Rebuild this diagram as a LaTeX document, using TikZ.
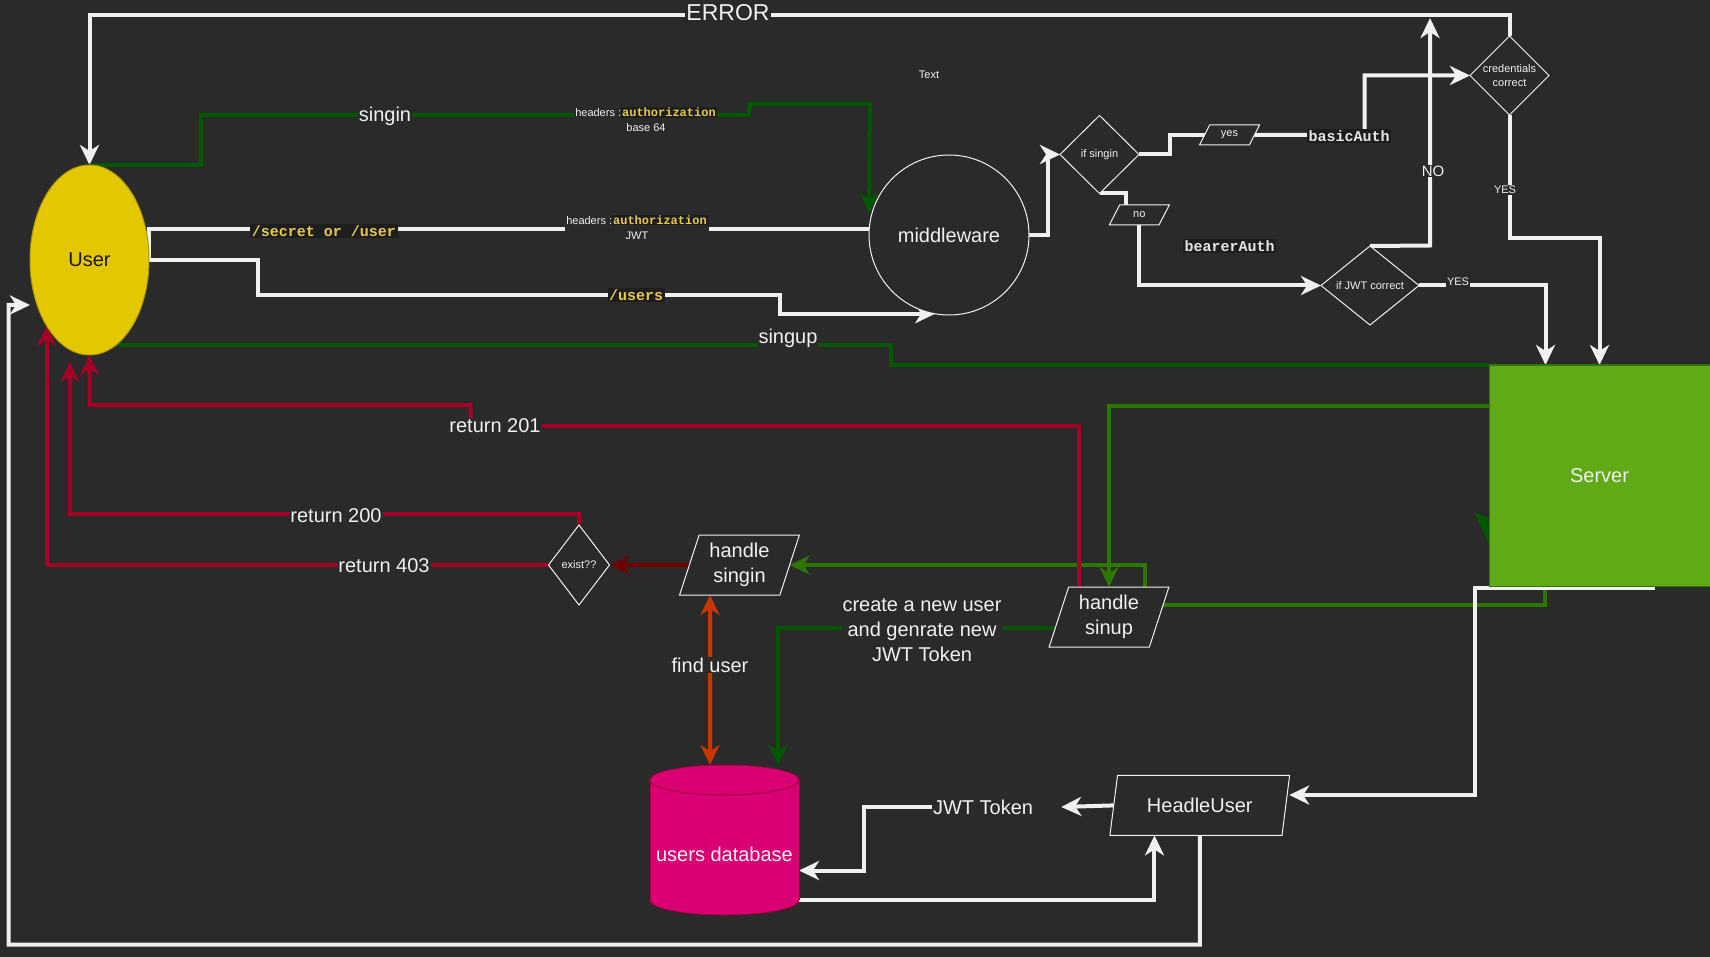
\documentclass[tikz,border=0pt]{standalone}
\usepackage{fontspec}
\setmainfont{Liberation Sans}
\newfontfamily\monof{Liberation Mono}
\usetikzlibrary{shapes.geometric,arrows.meta}
\definecolor{cBG}{HTML}{2A2A2A}
\definecolor{cW}{HTML}{F0F0F0}
\definecolor{cDG}{HTML}{005700}
\definecolor{cMG}{HTML}{2D7600}
\definecolor{cCR}{HTML}{A20025}
\definecolor{cDR}{HTML}{6F0000}
\definecolor{cOR}{HTML}{C73500}
\definecolor{cSrv}{HTML}{60A917}
\definecolor{cUsr}{HTML}{E3C800}
\definecolor{cUsrL}{HTML}{B09500}
\definecolor{cDB}{HTML}{D80073}
\definecolor{cDBL}{HTML}{A50040}
\definecolor{cCodeBG}{HTML}{1E1E1E}
\definecolor{cCodeY}{HTML}{E8C94E}
\definecolor{cCodeW}{HTML}{E6E6E6}
\newcommand\codehl[1]{{\setlength\fboxsep{1pt}\colorbox{cCodeBG}{\monof\bfseries\fontsize{12}{14}\selectfont\textcolor{cCodeY}{#1}}}}
\pgfdeclarelayer{bglayer}
\pgfdeclarelayer{edgelayer}
\pgfsetlayers{bglayer,edgelayer,main}
\tikzset{
 ln/.style={line width=4pt},
 wline/.style={ln,draw=cW},
 dgline/.style={ln,draw=cDG},
 mgline/.style={ln,draw=cMG},
 crline/.style={ln,draw=cCR},
 drline/.style={ln,draw=cDR},
 orline/.style={ln,draw=cOR},
 f11/.style={font=\fontsize{11}{14}\selectfont},
 f15/.style={font=\fontsize{15}{18}\selectfont},
 f20/.style={font=\fontsize{20}{25}\selectfont},
 f23/.style={font=\fontsize{23}{28}\selectfont},
 lbl/.style={fill=cBG,text=cW,inner sep=1pt},
 codel/.style={fill=cCodeBG,inner sep=1.5pt,font=\monof\bfseries\fontsize{15}{18}\selectfont},
 diam/.style={diamond,draw=cW,line width=1pt,fill=cBG,inner sep=0pt,outer sep=0pt},
 dtext/.style={text=cW,f11,inner sep=0pt,align=center},
 para/.style={trapezium,trapezium stretches=true,draw=cW,line width=1pt,fill=cBG,inner sep=0pt,outer sep=0pt,text=cW,align=center},
}
\begin{document}
\begin{tikzpicture}[x=1pt,y=-1pt,>={Stealth[length=20pt,width=19pt,inset=6pt]}]
\begin{pgfonlayer}{bglayer}
\fill[cBG] (0,0) rectangle (1710,957);
\end{pgfonlayer}
\useasboundingbox (0,0) rectangle (1710,957);

% ---------- shapes ----------
\node[ellipse,fill=cUsr,draw=cUsrL,line width=1pt,minimum width=119pt,minimum height=190pt,inner sep=0pt,outer sep=0pt,text=black!90,f20] (user) at (89.5,260) {User};
\node[circle,draw=cW,line width=1pt,fill=cBG,minimum size=160pt,inner sep=0pt,outer sep=0pt,text=cW,f20] (mw) at (949,235) {middleware};
\node[diam,minimum width=79pt,minimum height=78pt,label={[dtext]center:if singin}] (ifs) at (1099.5,154.5) {};
\node[diam,minimum width=79pt,minimum height=79pt,label={[dtext]center:credentials\\correct}] (cred) at (1509.5,75.5) {};
\node[diam,minimum width=98pt,minimum height=79pt,label={[dtext]center:if JWT correct}] (jwt) at (1370,285.5) {};
\node[diam,minimum width=61pt,minimum height=80pt,label={[dtext]center:exist??}] (ex) at (579,565) {};
\node[para,trapezium left angle=61.85,trapezium right angle=118.15,minimum width=60pt,minimum height=20pt,f11] (yes) at (1229.5,135) {yes};
\node[para,trapezium left angle=61.85,trapezium right angle=118.15,minimum width=60pt,minimum height=20pt,f11] (no) at (1139.3,215) {no};
\node[para,trapezium left angle=71.57,trapezium right angle=108.43,minimum width=120pt,minimum height=60pt,f20] (hsu) at (1109,617) {handle\\sinup};
\node[para,trapezium left angle=71.57,trapezium right angle=108.43,minimum width=120pt,minimum height=60pt,f20] (hsi) at (739.5,565) {handle\\singin};
\node[para,trapezium left angle=71.57,trapezium right angle=108.43,minimum width=180pt,minimum height=60pt,f20] (hu) at (1199.75,805.4) {HeadleUser};
\node[rectangle,fill=cSrv,draw=cMG,line width=1pt,minimum width=221pt,minimum height=221pt,inner sep=0pt,outer sep=0pt,text=cW,f20] (srv) at (1599.5,475.5) {Server};
% database cylinder
\fill[cDB] (724.5,900) ellipse [x radius=74.5,y radius=15];
\draw[cDBL,line width=1pt] (724.5,900) ellipse [x radius=74.5,y radius=15];
\fill[cDB] (650,780) rectangle (799,900);
\draw[cDBL,line width=1pt] (650,780) -- (650,900) (799,780) -- (799,900);
\filldraw[fill=cDB,draw=cDBL,line width=1pt] (724.5,780) ellipse [x radius=74.5,y radius=15];
\node[minimum width=149pt,minimum height=150pt,inner sep=0pt,outer sep=0pt,label={[text=cW,f20,yshift=-14pt]center:users database}] (db) at (724.5,840) {};
\node[text=cW,f11] (txt) at (929,75) {Text};

% ---------- connectors ----------
\begin{pgfonlayer}{edgelayer}
\node[lbl,f20] (ljwt) at (983,807) {JWT Token};
% stray arrow head behind server
\fill[cDG] (1474,512) -- (1490,519) -- (1490,546) -- cycle;

\draw[wline,->] (cred.north) -- (1509.5,15) -| (user.north);
\draw[wline,->] (jwt.north) -- (1430,245.5) -- (1430,18);
\draw[wline,->] (cred.south) -- (1509.5,238) -| (srv.north);
\draw[wline,->] (jwt.east) -| ([xshift=-54pt]srv.north);
\draw[wline,->] (mw.east) -- (1048,235) |- (ifs.west);
\draw[wline] (ifs.east) -- (1170,154.5) |- (yes.west);
\draw[wline,->] (yes.east) -- (1364.5,135) |- (cred.west);
\draw[wline] (ifs.south) -| ([xshift=-13pt]no.north);
\draw[wline,->] (no.south) |- (jwt.west);
\draw[wline] (user.east) |- (mw.176.4);
\draw[wline,->] (user.east) -- (258,260) |- (779.5,295) |- (mw.260);
\draw[dgline,->] (user.north) -- (201,165) |- (749,115) |- (870,104) -- (mw.west |- 0,213);
\draw[dgline] ([xshift=24pt,yshift=-85.5pt]user.center) -- (891,345.5) |- (srv.north west);
\draw[mgline,->] (srv.west |- 0,405.7) -| (hsu.north);
\draw[mgline,->] ([xshift=-54.5pt]srv.south) -- (1545,605) -- (1145,605) |- (hsi.east);
\draw[drline,->] (hsi.west) -- (ex.east);
\draw[orline,<->] ([xshift=-29.5pt]hsi.south) -- ([xshift=-14.5pt]db.north);
\draw[dgline,->] ([yshift=-11pt]hsu.west) -| ([xshift=53.5pt]db.north);
\draw[crline,->] ([xshift=-30pt]hsu.north) -- (1079,426) -- (470.7,426) -- (470.7,405) -| (user.south);
\draw[crline,->] (ex.north) -- (579,514.3) -| ([xshift=-19.5pt,yshift=-7pt]user.south);
\draw[crline,->] (ex.west) -| (user.237);
\draw[wline,->] ([xshift=55pt,yshift=-2pt]srv.south) -- (1475,588) |- ([xshift=3.4pt,yshift=10.4pt]hu.east);
\draw[wline,->] (hu.west) -- ([xshift=27pt]ljwt.east);
\draw[wline,->] (ljwt.west) -- (863.7,807) |- ([yshift=-30.5pt]db.east);
\draw[wline,->] ([yshift=-60pt]db.east) -| ([xshift=-45.3pt]hu.south);
\draw[wline,->] (hu.south) -- (1199.75,944.5) -| (8.6,305) -- (user.west |- 0,305);

% labels
\node[lbl,f23] (lerr) at (728,13) {ERROR};
\node[lbl,f15] (lno) at (1433,171) {NO};
\node[lbl,f11] (lyes1) at (1505,190) {YES};
\node[lbl,f11] (lyes2) at (1458,282) {YES};
\node[codel,text=cCodeW] (lbasic) at (1349,136) {basicAuth};
\node[codel,text=cCodeW] (lbearer) at (1229.5,246) {bearerAuth};
\node[codel,text=cCodeY] (lsecret) at (324,231) {/secret or /user};
\node[codel,text=cCodeY] (lusers) at (636,295) {/users};
\node[lbl,align=center,font=\fontsize{11}{15}\selectfont] (lhdr1) at (646,119.5) {headers :\codehl{authorization}\\base 64};
\node[lbl,align=center,font=\fontsize{11}{15}\selectfont] (lhdr2) at (637,227) {headers :\codehl{authorization}\\JWT};
\node[lbl,f20] (lsingin) at (385,116) {singin};
\node[lbl,f20] (lsingup) at (788,338) {singup};
\node[lbl,f20] (l201) at (495,426) {return 201};
\node[lbl,f20] (l200) at (336,516) {return 200};
\node[lbl,f20] (l403) at (384,566) {return 403};
\node[lbl,f20] (lfind) at (710,665) {find user};
\node[lbl,f20,align=center] (lcreate) at (922,630) {create a new user\\and genrate new\\JWT Token};
\end{pgfonlayer}
\end{tikzpicture}
\end{document}
